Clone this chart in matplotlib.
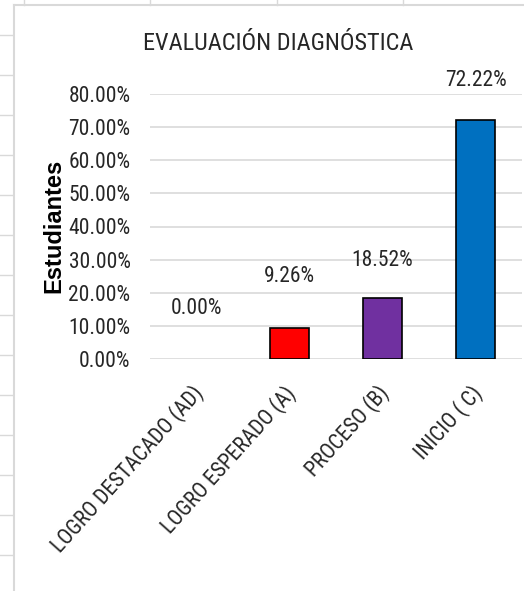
import matplotlib
matplotlib.use("Agg")
import matplotlib.pyplot as plt
import matplotlib.transforms as mtransforms
from matplotlib.lines import Line2D
from matplotlib import font_manager as fm

# -------------------- data --------------------
categories = ["LOGRO DESTACADO (AD)", "LOGRO ESPERADO (A)", "PROCESO (B)", "INICIO ( C)"]
percent = [0.0, 0.0926, 0.1852, 0.7222]
bar_colors = ["#FFFFFF", "#FF0000", "#7030A0", "#0070C0"]
yticks = [0.0, 0.1, 0.2, 0.3, 0.4, 0.5, 0.6, 0.7, 0.8]

# label offsets above the bar top, in points (labels were nudged by hand in the original)
label_offsets = [36, 37, 27, 28]

W, H = 524, 591
grid_col = "#D9D9D9"
text_col = "#262626"


def pick_face(cands, weight):
    # first candidate that really has this weight installed
    have = {(f.name, f.weight) for f in fm.fontManager.ttflist}
    for c in cands:
        if (c, weight) in have:
            return c
    return "DejaVu Sans"


narrow_face = pick_face(["Liberation Sans Narrow", "Roboto Condensed", "PT Sans Narrow",
                         "Open Sans Condensed", "Archivo Narrow", "Sofia Sans Condensed"], 400)
bold_face = pick_face(["Liberation Sans", "Noto Sans", "Open Sans", "Roboto"], 700)
narrow = [narrow_face, "DejaVu Sans"]

fig = plt.figure(figsize=(W / 100, H / 100), dpi=100)


def fx(px):
    return px / W


def fy(py):
    return 1 - py / H


# spreadsheet grid behind the chart object
for x in [24, 150, 277, 403]:
    fig.add_artist(Line2D([fx(x), fx(x)], [fy(0), fy(5)], color=grid_col, lw=1))
for y in range(35, 591, 40):
    fig.add_artist(Line2D([fx(0), fx(13)], [fy(y), fy(y)], color=grid_col, lw=1))
# chart area border
fig.add_artist(Line2D([fx(14), fx(14)], [fy(5), fy(591)], color=grid_col, lw=1.5))
fig.add_artist(Line2D([fx(14), fx(524)], [fy(5), fy(5)], color=grid_col, lw=1.5))

ax = fig.add_axes([fx(150), fy(359), fx(522) - fx(150), fy(94) - fy(359)])
xs = list(range(len(categories)))
bars = ax.bar(xs, percent, width=0.41, color=bar_colors, edgecolor="black", linewidth=1.2, zorder=3)
for b, v in zip(bars, percent):
    if v == 0:
        b.set_visible(False)

ax.set_xlim(-0.5, len(categories) - 0.5)
ax.set_ylim(0, 0.8)
ax.set_yticks(yticks)
ax.set_yticklabels([f"{t * 100:.2f}%" for t in yticks], family=narrow, fontsize=15.5, color=text_col)
ax.yaxis.grid(True, color=grid_col, lw=1.2, zorder=0)
ax.tick_params(axis="y", length=0, pad=14)
ax.tick_params(axis="x", length=0, pad=22)
ax.set_xticks(xs)
ax.set_xticklabels(categories, rotation=48, ha="right", va="center", rotation_mode="anchor",
                   family=narrow, fontsize=15.5, color=text_col)
shift = mtransforms.ScaledTranslation(3 / 100, 0, fig.dpi_scale_trans)
for lab in ax.get_xticklabels():
    lab.set_transform(lab.get_transform() + shift)
for s in ax.spines.values():
    s.set_visible(False)

for x, v, off in zip(xs, percent, label_offsets):
    ax.annotate(f"{v * 100:.2f}%", (x, v), xytext=(0, off), textcoords="offset points",
                ha="center", va="center", family=narrow, fontsize=15.5, color=text_col)

fig.text(fx(278), fy(44), "EVALUACIÓN DIAGNÓSTICA", ha="center", va="center",
         family=narrow, fontsize=17.5, color=text_col)
fig.text(fx(54), fy(226), "Estudiantes", rotation=90, ha="center", va="center",
         family=[bold_face, "DejaVu Sans"], fontsize=17, fontweight="bold")

fig.savefig("out.png", dpi=100)
